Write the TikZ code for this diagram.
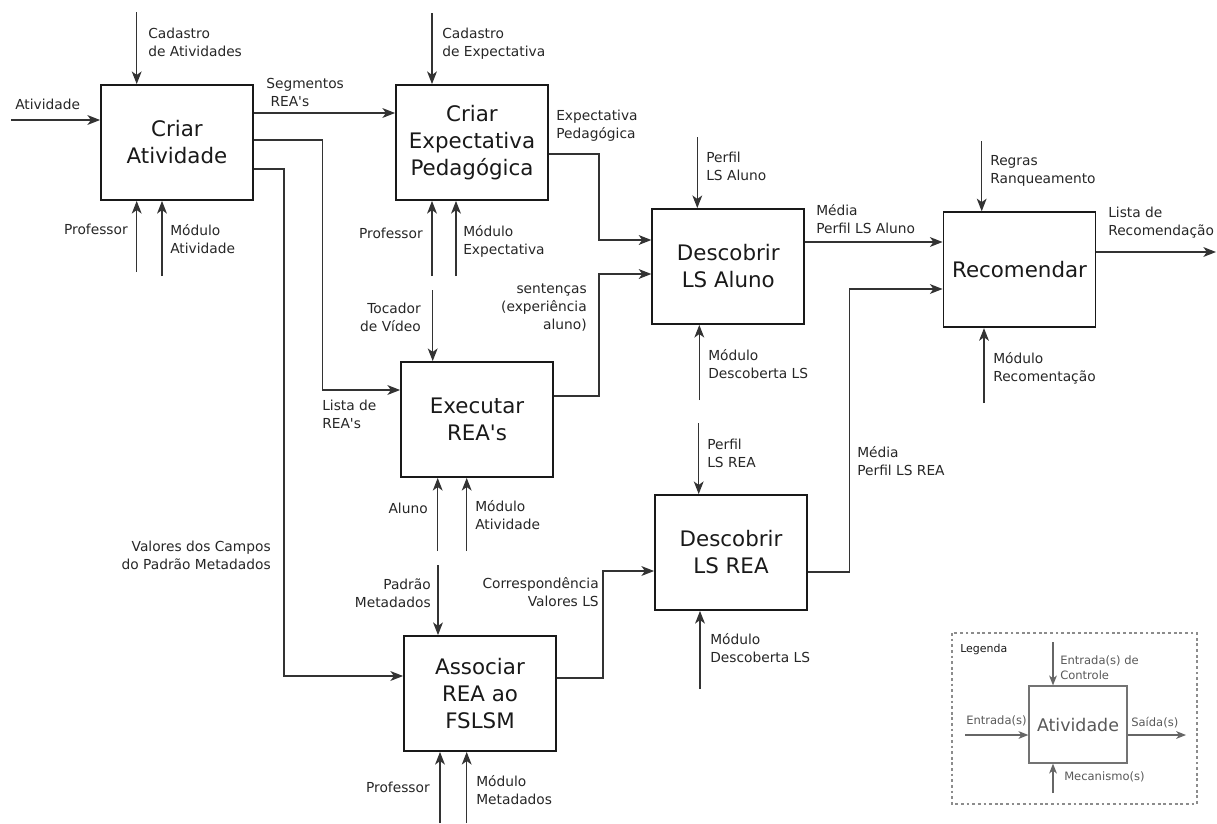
\documentclass[tikz,border=0pt]{standalone}
\usepackage{fontspec}
\setmainfont{DejaVu Sans}[Ligatures=TeXOff]
\usetikzlibrary{arrows.meta}
\tikzset{
  caixa/.style={draw=black!90,line width=1.3pt,minimum width=3.8cm,minimum height=2.875cm,
    inner sep=0pt,align=center,font=\fontsize{15.2}{19.2}\selectfont,text=black!90},
  rotulo/.style={inner sep=0pt,font=\fontsize{9.8}{12.8}\selectfont,text=black!85},
  fluxo/.style={draw=black!80,line width=0.9pt},
  legcaixa/.style={draw=black!55,line width=0.9pt,minimum width=2.45cm,minimum height=1.925cm,
    inner sep=0pt,font=\fontsize{12.4}{15}\selectfont,text=black!65},
  legrotulo/.style={inner sep=0pt,font=\fontsize{8.2}{10.7}\selectfont,text=black!65},
  legfluxo/.style={draw=black!60,line width=0.8pt}
}
\begin{document}
\begin{tikzpicture}[x=0.025cm,y=-0.025cm,>={Stealth[length=9pt,width=7pt,inset=2.5pt]}]
    \useasboundingbox (0,0) rectangle (1217,823);
    % caixas
    \node[caixa] (criaratv) at (177,142.5) {Criar\\Atividade};
    \node[caixa] (criarexp) at (472,142.5) {Criar\\Expectativa\\Pedagógica};
    \node[caixa] (descaluno) at (728.3,266.5) {Descobrir\\LS Aluno};
    \node[caixa] (recom) at (1019.5,269.7) {Recomendar};
    \node[caixa] (executar) at (477,419.5) {Executar\\REA's};
    \node[caixa] (descrea) at (731,552.5) {Descobrir\\LS REA};
    \node[caixa] (associar) at (480,693.5) {Associar\\REA ao\\FSLSM};

    % Criar Atividade
    \coordinate (ctlatv) at (136.7,12);
    \coordinate (entatv) at (11,120);
    \coordinate (profatv) at (136.7,272);
    \coordinate (modatv) at (162,276);
    \draw[fluxo,->] (ctlatv) -- (ctlatv |- criaratv.north);
    \draw[fluxo,->] (entatv) -- (entatv -| criaratv.west);
    \draw[fluxo,->] (profatv) -- (profatv |- criaratv.south);
    \draw[fluxo,->] (modatv) -- (modatv |- criaratv.south);
    \draw[fluxo,->] (criaratv.east |- 0,113) -- (criarexp.west |- 0,113);
    \draw[fluxo,->] (criaratv.east |- 0,140) -| (322.7,390) -- (executar.west |- 0,390);
    \draw[fluxo,->] (criaratv.east |- 0,169) -| (284,676) -- (associar.west |- 0,676);
    \node[rotulo,anchor=west,align=left] (lcadatv) at (148,42) {Cadastro\\de Atividades};
    \node[rotulo,anchor=west] (latv) at (15,104) {Atividade};
    \node[rotulo,anchor=east] (lprofatv) at (128,229) {Professor};
    \node[rotulo,anchor=west,align=left] (lmodatv) at (170,239) {Módulo\\Atividade};
    \node[rotulo,anchor=west,align=left] (lseg) at (266,92) {Segmentos\\\hspace{3pt}REA's};
    \node[rotulo,anchor=west,align=left] (llista) at (322,414) {Lista de\\REA's};
    \node[rotulo,anchor=east,align=right] (lvalores) at (271,555) {Valores dos Campos\\do Padrão Metadados};

    % Criar Expectativa
    \coordinate (ctlexp) at (432,13);
    \coordinate (profexp) at (432,276);
    \coordinate (modexp) at (456,276);
    \draw[fluxo,->] (ctlexp) -- (ctlexp |- criarexp.north);
    \draw[fluxo,->] (profexp) -- (profexp |- criarexp.south);
    \draw[fluxo,->] (modexp) -- (modexp |- criarexp.south);
    \draw[fluxo,->] (criarexp.east |- 0,154) -| (599,240) -- (descaluno.west |- 0,240);
    \node[rotulo,anchor=west,align=left] (lcadexp) at (442,44) {Cadastro\\de Expectativa};
    \node[rotulo,anchor=east] (lprofexp) at (423,233) {Professor};
    \node[rotulo,anchor=west,align=left] (lmodexp) at (463,241) {Módulo\\Expectativa};
    \node[rotulo,anchor=west,align=left] (lexpped) at (556,125.5) {Expectativa\\Pedagógica};

    % Executar REA's
    \coordinate (ctlexe) at (432.7,290);
    \coordinate (aluexe) at (437.7,551);
    \coordinate (modexe) at (466.7,551);
    \draw[fluxo,->] (ctlexe) -- (ctlexe |- executar.north);
    \draw[fluxo,->] (aluexe) -- (aluexe |- executar.south);
    \draw[fluxo,->] (modexe) -- (modexe |- executar.south);
    \draw[fluxo,->] (executar.east |- 0,396) -| (599,274) -- (descaluno.west |- 0,274);
    \node[rotulo,anchor=east,align=right] (ltocador) at (421,317) {Tocador\\de Vídeo};
    \node[rotulo,anchor=east,align=right] (lsent) at (587,308) {sentenças\\(experiência\\aluno)};
    \node[rotulo,anchor=east] (laluno) at (428,508) {Aluno};
    \node[rotulo,anchor=west,align=left] (lmodexe) at (475,515.5) {Módulo\\Atividade};

    % Associar REA ao FSLSM
    \coordinate (ctlass) at (438,565);
    \coordinate (profass) at (440,823);
    \coordinate (modass) at (466.7,823);
    \draw[fluxo,->] (ctlass) -- (ctlass |- associar.north);
    \draw[fluxo,->] (profass) -- (profass |- associar.south);
    \draw[fluxo,->] (modass) -- (modass |- associar.south);
    \draw[fluxo,->] (associar.east |- 0,678) -| (603,571) -- (descrea.west |- 0,571);
    \node[rotulo,anchor=east,align=right] (lpadrao) at (431,593) {Padrão\\Metadados};
    \node[rotulo,anchor=east,align=right] (lcorresp) at (599,592) {Correspondência\\Valores LS};
    \node[rotulo,anchor=east] (lprofass) at (430,787) {Professor};
    \node[rotulo,anchor=west,align=left] (lmodass) at (476,790.5) {Módulo\\Metadados};

    % Descobrir LS Aluno
    \coordinate (ctlalu) at (697.3,137);
    \coordinate (modalu) at (699.3,400);
    \draw[fluxo,->] (ctlalu) -- (ctlalu |- descaluno.north);
    \draw[fluxo,->] (modalu) -- (modalu |- descaluno.south);
    \draw[fluxo,->] (descaluno.east |- 0,242) -- (recom.west |- 0,242);
    \node[rotulo,anchor=west,align=left] (lperfalu) at (706,166.5) {Perfil\\LS Aluno};
    \node[rotulo,anchor=west,align=left] (lmodalu) at (708,364.5) {Módulo\\Descoberta LS};
    \node[rotulo,anchor=west,align=left] (lmedalu) at (816,219.5) {Média\\Perfil LS Aluno};

    % Descobrir LS REA
    \coordinate (ctlrea) at (698.7,423);
    \coordinate (modrea) at (700,689);
    \draw[fluxo,->] (ctlrea) -- (ctlrea |- descrea.north);
    \draw[fluxo,->] (modrea) -- (modrea |- descrea.south);
    \draw[fluxo,->] (descrea.east |- 0,572) -| (849.3,289) -- (recom.west |- 0,289);
    \node[rotulo,anchor=west,align=left] (lperfrea) at (707,453) {Perfil\\LS REA};
    \node[rotulo,anchor=west,align=left] (lmodrea) at (710,648.5) {Módulo\\Descoberta LS};
    \node[rotulo,anchor=west,align=left] (lmedrea) at (857,461) {Média\\Perfil LS REA};

    % Recomendar
    \coordinate (ctlrec) at (981.7,141);
    \coordinate (modrec) at (984,403);
    \coordinate (saidarec) at (1216,252);
    \draw[fluxo,->] (ctlrec) -- (ctlrec |- recom.north);
    \draw[fluxo,->] (modrec) -- (modrec |- recom.south);
    \draw[fluxo,->] (recom.east |- saidarec) -- (saidarec);
    \node[rotulo,anchor=west,align=left] (lregras) at (990,171) {Regras\\Ranqueamento};
    \node[rotulo,anchor=west,align=left] (lmodrec) at (993,368) {Módulo\\Recomentação};
    \node[rotulo,anchor=west,align=left] (llistarec) at (1108,223) {Lista de\\Recomendação};

    % legenda
    \begin{scope}[>={Stealth[length=7pt,width=5.5pt,inset=2pt]}]
      \draw[draw=black!45,line width=0.8pt,dash pattern=on 2pt off 2pt] (952,633) rectangle (1197,804);
      \node[inner sep=0pt,anchor=west,font=\fontsize{7.8}{9}\selectfont,text=black!90] (lleg) at (960,649) {Legenda};
      \node[legcaixa] (legatv) at (1078,724.5) {Atividade};
      \coordinate (legctl) at (1053,642);
      \coordinate (legent) at (965,735);
      \coordinate (legsai) at (1186,735);
      \coordinate (legmec) at (1053,793);
      \draw[legfluxo,->] (legctl) -- (legctl |- legatv.north);
      \draw[legfluxo,->] (legent) -- (legent -| legatv.west);
      \draw[legfluxo,->] (legatv.east |- legsai) -- (legsai);
      \draw[legfluxo,->] (legmec) -- (legmec |- legatv.south);
      \node[legrotulo,anchor=west,align=left] (llegctl) at (1060,668) {Entrada(s) de\\Controle};
      \node[legrotulo,anchor=west] (llegent) at (966,721) {Entrada(s)};
      \node[legrotulo,anchor=west] (llegsai) at (1131,723) {Saída(s)};
      \node[legrotulo,anchor=west] (llegmec) at (1064,777) {Mecanismo(s)};
    \end{scope}
\end{tikzpicture}
\end{document}
